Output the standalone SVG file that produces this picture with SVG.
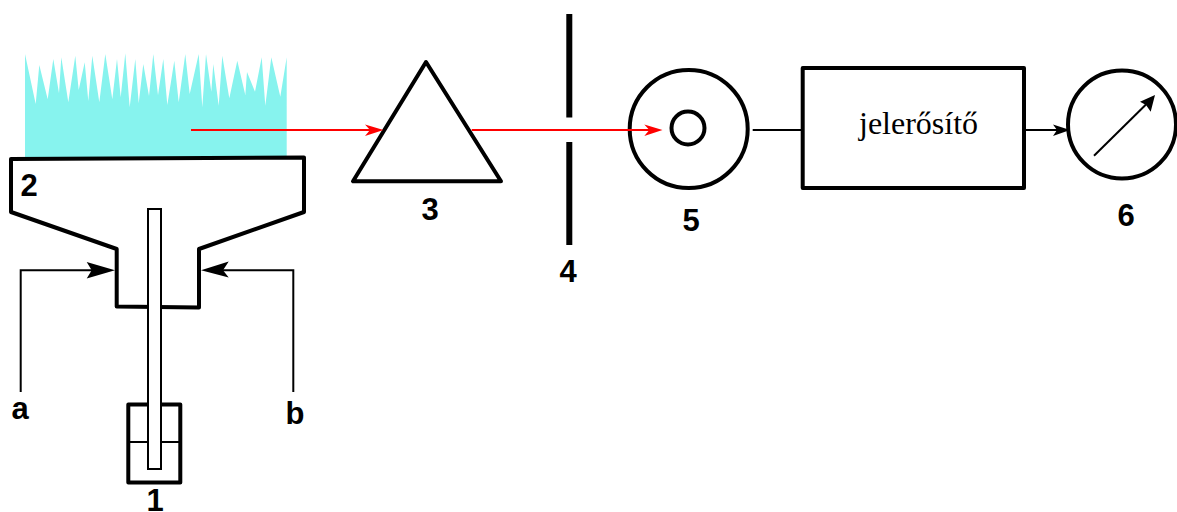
<svg xmlns="http://www.w3.org/2000/svg" width="1177" height="512" viewBox="0 0 1177 512">
<style>
.thick{fill:none;stroke:#000;stroke-width:4;stroke-linejoin:round}
.thin{fill:none;stroke:#000;stroke-width:2}
.red{fill:none;stroke:#f00;stroke-width:2}
.num{font-family:"Liberation Sans",Arial,sans-serif;font-weight:700;font-size:31px;fill:#000;text-anchor:middle}
.head{fill:#000}
.headr{fill:#f00}
</style>
<rect width="1177" height="512" fill="#fff"/>
<g id="flame"><polygon fill="#87f3ee" points="25,54 35.7,104 39.3,65 47.7,99.3 53.3,59 59,93.3 61.3,57.3 68.3,102.3 75.3,55.7 78.7,90 84.7,62.3 88.3,101 92.3,55.7 99.3,102.3 105.3,54 112.3,99.3 117,59 120.7,97.3 125.3,53.3 129.7,107.3 135.3,59 138.7,103.3 143.3,64 149,96 153.3,54 158,95.3 163.3,59 167.3,105 174.3,60.7 178.7,102.3 185.3,54 189.7,94 198.7,54 202.3,107.3 206,54 211.3,91.7 213.3,64 218.7,105.7 222.3,55.7 229.3,98.3 237.3,60.7 245.3,95 247,72 255,91.7 261.7,57.3 265.3,105.7 271.3,57.3 280.3,96.7 286.7,57.3 286.7,158 25,158"/></g>
<g id="node-2"><path class="thick" d="M11,159L304,157.500V212L199,249V307.500L116.700,306.500V249L11,212Z"/><text class="num" x="29" y="196">2</text></g>
<g id="node-1"><rect class="thick" x="128.300" y="404.500" width="52" height="78"/><line class="thin" x1="128" y1="442" x2="180" y2="442"/><rect x="148" y="209" width="13" height="260" fill="#fff" stroke="#000" stroke-width="2"/><text class="num" x="155" y="511">1</text></g>
<g id="node-3"><polygon class="thick" points="426,62 353,181.300 501,181.300"/><text class="num" x="430" y="220">3</text></g>
<g id="node-4"><rect x="566.300" y="14" width="6" height="103.500"/><rect x="566.300" y="142" width="6" height="103"/><text class="num" x="568" y="281.500">4</text></g>
<g id="node-5"><circle class="thick" cx="688.700" cy="129" r="59"/><circle class="thick" cx="688" cy="128" r="16.500"/><text class="num" x="691" y="231">5</text></g>
<g id="node-amp"><rect class="thick" x="802.700" y="68" width="221.300" height="120"/><text x="859" y="134" font-family="'Liberation Serif','Times New Roman',serif" font-size="32" fill="#000">jelerősítő</text></g>
<g id="node-6"><circle class="thick" cx="1122" cy="124.500" r="54"/><text class="num" x="1126" y="226">6</text></g>
<g id="label-a"><text class="num" x="20" y="419">a</text></g>
<g id="label-b"><text class="num" x="295" y="423.500">b</text></g>
<g id="connectors">
<path class="thin" d="M20.700,392V270.300H95"/><polygon class="head" points="115,270.300 86.700,262 91.700,270.300 86.700,278.500"/>
<path class="thin" d="M293.300,392V270.300H222"/><polygon class="head" points="201,270.300 228.700,261.500 223,270.300 228.700,277.500"/>
<line class="red" x1="191" y1="130" x2="370" y2="130"/><polygon class="headr" points="383.500,130 365,124.500 370,130 365,136"/>
<line class="red" x1="471.700" y1="130" x2="650" y2="130"/><polygon class="headr" points="662.500,130 644.300,124.500 649.300,130 644.300,136"/>
<line class="thin" x1="752.700" y1="130" x2="802" y2="130"/>
<line class="thin" x1="1026" y1="130" x2="1058" y2="130"/><polygon class="head" points="1070,130 1053,124.500 1057,130 1053,136"/>
<line class="thin" x1="1094" y1="155.700" x2="1147" y2="103.500"/><polygon class="head" points="1155,95 1140,101.700 1146,105 1150.700,111.700"/>
</g>
</svg>
